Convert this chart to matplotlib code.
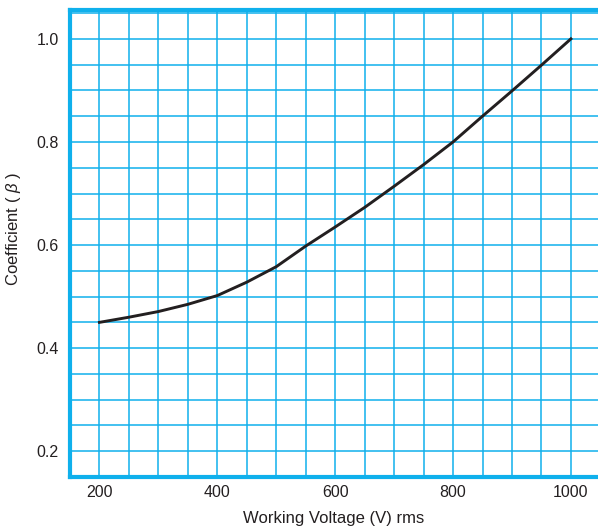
import matplotlib.pyplot as plt
import numpy as np

# values
voltage = [200, 250, 300, 350, 400, 450, 500, 550, 600, 650, 700, 750, 800, 850, 900, 950, 1000]
coefficient = [0.450, 0.460, 0.471, 0.485, 0.502, 0.528, 0.558, 0.598, 0.635, 0.673, 0.714, 0.756, 0.800,
               0.850, 0.899, 0.949, 1.000]

x_ticks = [200, 400, 600, 800, 1000]
y_ticks = [0.2, 0.4, 0.6, 0.8, 1.0]

plt.rcParams["font.family"] = ["Liberation Sans", "DejaVu Sans"]
plt.rcParams["mathtext.fontset"] = "custom"
plt.rcParams["mathtext.it"] = "Liberation Sans:italic"

cyan = "#0fb0ec"
ink = "#231f20"

fig = plt.figure(figsize=(5.98, 5.29), dpi=100)
ax = fig.add_axes([70 / 598, 1 - 477 / 529, 1 - 70 / 598, (477 - 10) / 529])

ax.plot(voltage, coefficient, color=ink, linewidth=2.1, solid_joinstyle="round", zorder=3)

ax.set_xlim(150, 1046)
ax.set_ylim(0.15, 1.056)

# grid every 50 V and every 0.05
ax.set_xticks(np.arange(150, 1050, 50), minor=True)
ax.set_yticks(np.arange(0.15, 1.06, 0.05), minor=True)
ax.set_xticks(x_ticks)
ax.set_yticks(y_ticks)
ax.set_xticklabels([str(v) for v in x_ticks])
ax.set_yticklabels([f"{v:.1f}" for v in y_ticks])
ax.grid(True, which="both", color=cyan, linewidth=1.1)
ax.tick_params(which="both", length=0, labelsize=11.5, colors=ink)
ax.tick_params(axis="x", pad=6)
ax.tick_params(axis="y", pad=8)

for side in ["left", "bottom", "top"]:
    ax.spines[side].set_color(cyan)
    ax.spines[side].set_linewidth(3)
ax.spines["right"].set_visible(False)

ax.set_xlabel("Working Voltage (V) rms", fontsize=12, color=ink, labelpad=8)
ax.set_ylabel(r"Coefficient ( $\beta$ )", fontsize=12, color=ink, labelpad=10, y=0.53)

fig.savefig("out.png", dpi=100)
